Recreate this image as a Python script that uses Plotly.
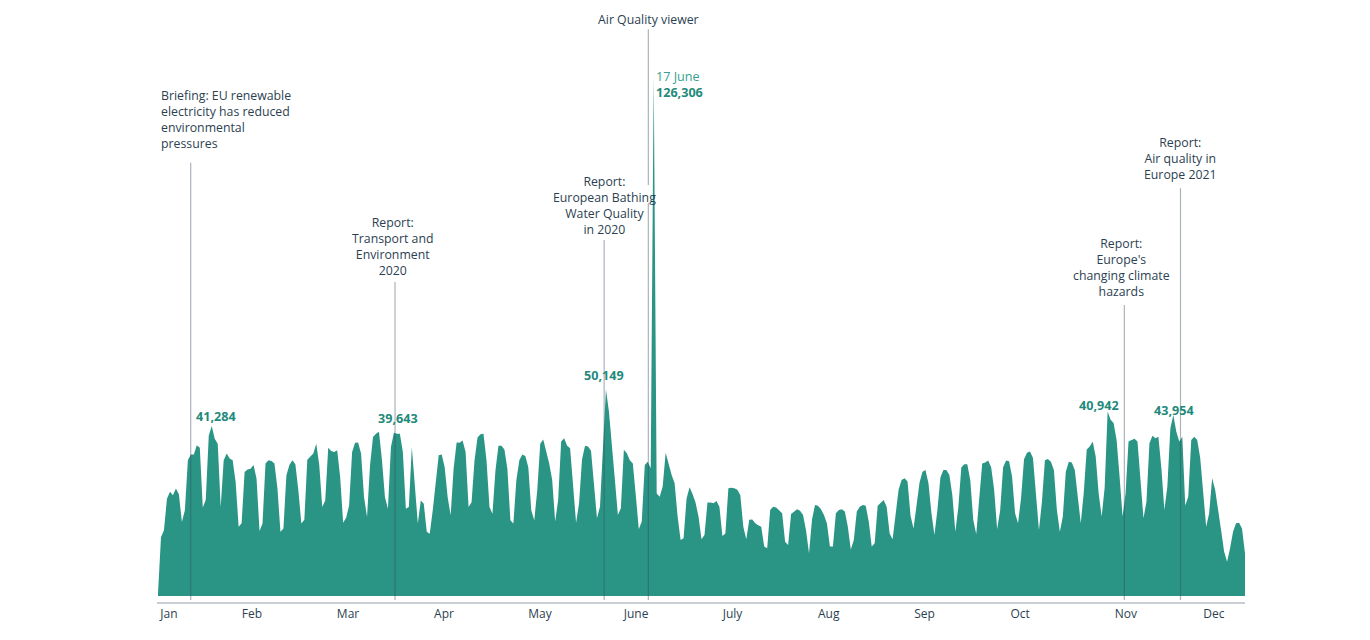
import pandas as pd
import plotly.graph_objects as go

# ---------------- data ----------------
start_date = "2021-01-01"

# daily page views (one value per day, 365 days)
views = [
    500, 14300, 16000, 23600, 25300, 24500, 26100,
    24700, 18000, 20800, 33000, 34400, 34400, 36600,
    36000, 21500, 23400, 39000, 41284, 38200, 37000,
    21600, 33000, 34600, 33400, 33000, 27700, 16800,
    17700, 30100, 30700, 30900, 31800, 28500, 15800,
    17600, 32200, 33000, 32800, 32200, 26100, 15600,
    16400, 29300, 31800, 33000, 32000, 25700, 17600,
    18500, 33100, 33800, 34600, 37000, 31800, 21600,
    23200, 36000, 35200, 35000, 35400, 28900, 17800,
    19000, 22000, 35000, 37200, 37300, 34600, 24000,
    19200, 31700, 38600, 39400, 39900, 33000, 24000,
    21200, 36200, 39643, 39400, 39400, 35000, 21200,
    21600, 36200, 27300, 17600, 23200, 22400, 15600,
    15100, 20800, 28400, 34200, 34400, 31300, 24000,
    19600, 31000, 37300, 37200, 37800, 35000, 21600,
    22800, 33000, 38500, 39300, 39400, 33000, 21600,
    20000, 30500, 36500, 36500, 35600, 30900, 18400,
    17600, 28100, 33000, 34400, 34000, 31300, 20800,
    18400, 25700, 37000, 38000, 35100, 32200, 28200,
    18100, 23300, 37500, 38300, 36500, 35900, 25800,
    17800, 22500, 33200, 36500, 36300, 35300, 27800,
    18900, 21700, 35900, 50149, 44800, 37100, 28200,
    19700, 21300, 35500, 34700, 33000, 32200, 24500,
    16200, 18100, 31800, 32600, 31000, 126306, 24900,
    24100, 26600, 34800, 31800, 29400, 27400, 19300,
    13600, 14000, 23700, 26400, 24800, 22700, 19300,
    13800, 14800, 22700, 22700, 22500, 23100, 21700,
    14600, 15200, 26200, 26300, 26200, 25800, 24500,
    16800, 13800, 18500, 18600, 17700, 17200, 16800,
    12000, 11600, 20900, 21700, 21500, 20900, 20100,
    13200, 12400, 19900, 20400, 21100, 20700, 19700,
    16000, 10400, 18500, 22100, 21900, 21100, 19700,
    17700, 12000, 12000, 20100, 20900, 21100, 20500,
    16800, 11300, 13600, 20500, 21700, 22100, 21900,
    18100, 12000, 12800, 21900, 22700, 23300, 21700,
    15200, 13800, 19300, 25800, 28200, 28600, 27800,
    19500, 16400, 22000, 27500, 30200, 30600, 27400,
    20100, 14800, 20900, 28800, 30600, 30600, 29400,
    24500, 15600, 21500, 31200, 32000, 32000, 28200,
    18500, 15000, 23300, 32200, 32400, 32900, 31300,
    25800, 16200, 20700, 31300, 32900, 32700, 29000,
    20100, 17700, 23700, 33200, 34800, 35100, 33500,
    24900, 16000, 22900, 33000, 33300, 32600, 30600,
    20900, 15600, 19300, 30200, 32600, 32400, 30600,
    24100, 17700, 25000, 35600, 36300, 37500, 33900,
    24900, 19300, 26300, 44800, 42800, 42000, 37900,
    29000, 19300, 24900, 37500, 37900, 38200, 37500,
    28200, 18900, 22900, 37100, 38900, 38300, 38700,
    31000, 20900, 26600, 40700, 43954, 39900, 37500,
    38700, 22000, 24100, 37900, 38700, 37900, 33500,
    25800, 16800, 20100, 28600, 25800, 21300, 16000,
    10800, 8300, 11600, 15600, 17700, 17800, 16400,
    10300,
]

month_labels = ["Jan", "Feb", "Mar", "Apr", "May", "June",
                "July", "Aug", "Sep", "Oct", "Nov", "Dec"]
month_label_day = [3.68, 31.48, 63.63, 95.78, 127.93, 160.08,
                   192.4, 224.6, 256.7, 288.7, 324.1, 353.6]

event_texts = [
    "Briefing: EU renewable<br>electricity has reduced<br>environmental<br>pressures",
    "Report:<br>Transport and<br>Environment<br>2020",
    "Report:<br>European Bathing<br>Water Quality<br>in 2020",
    "Air Quality viewer",
    "Report:<br>Europe's<br>changing climate<br>hazards",
    "Report:<br>Air quality in<br>Europe 2021",
]
event_day = [10.95, 79.37, 149.4, 164.2, 323.6, 342.4]

peak_labels = ["41,284", "39,643", "50,149", "126,306", "40,942", "43,954"]
peak_label_day = [19.42, 80.27, 149.4, 167.4, 315.1, 340.2]
spike_date_label = "17 June"

# ---------------- styling / layout ----------------
W, H = 1370, 640
M_L, M_R, M_T, M_B = 157, 125, 0, 38
PLOT_BOTTOM = H - M_B          # pixel row of the x axis line
PLOT_H = H - M_T - M_B

TEAL = "#2a9585"
TEAL_TXT = "#1f8a7b"
TEXT = "#2c3f52"
FONT = "Open Sans"
FS = 12.3

base = pd.Timestamp(start_date)
dates = pd.date_range(start_date, periods=len(views), freq="D")


def day_to_date(d):
    return (base + pd.to_timedelta(d, unit="D")).strftime("%Y-%m-%d %H:%M:%S")


def py(y_pixel):
    """pixel row -> paper y"""
    return (PLOT_BOTTOM - y_pixel) / PLOT_H


fig = go.Figure()
fig.add_trace(go.Scatter(
    x=dates, y=views, mode="lines", fill="tozeroy",
    line=dict(width=0, color=TEAL), fillcolor=TEAL,
    hoverinfo="skip", showlegend=False,
))

# event lines (top pixel, bottom pixel) - Air Quality viewer line is interrupted by the text
event_line_segments = [
    [(162.7, 600)],
    [(282, 600)],
    [(240, 600)],
    [(29.3, 185), (203, 600)],
    [(305, 600)],
    [(188.3, 600)],
]
shapes = []
for d, segs in zip(event_day, event_line_segments):
    for top, bot in segs:
        shapes.append(dict(
            type="line", xref="x", yref="paper",
            x0=day_to_date(d), x1=day_to_date(d),
            y0=py(bot), y1=py(top),
            line=dict(color="rgba(55,72,90,0.42)", width=1.2),
            layer="above",
        ))

# event text placement: (xanchor, xshift px, block center-y pixel, align)
event_text_place = [
    ("left", -31, 119.7, "left"),
    ("center", -2.3, 246.5, "center"),
    ("center", 0, 205.3, "center"),
    ("center", 0, 19.3, "center"),
    ("center", -2.6, 267.5, "center"),
    ("center", 0.3, 158.0, "center"),
]
annotations = []
for txt, d, (xa, xs, yc, al) in zip(event_texts, event_day, event_text_place):
    annotations.append(dict(
        x=day_to_date(d), xref="x", y=py(yc), yref="paper",
        text=txt, showarrow=False, xanchor=xa, yanchor="middle",
        xshift=xs, align=al, borderpad=0,
        font=dict(family=FONT, size=FS, color=TEXT),
    ))

# peak value labels: (xanchor, xshift, center-y pixel)
peak_place = [
    ("center", 0, 416.8),
    ("center", 0, 418.3),
    ("center", 0, 375.5),
    ("left", -2.5, 92.3),
    ("center", 0, 405.0),
    ("center", 0, 410.0),
]
for txt, d, (xa, xs, yc) in zip(peak_labels, peak_label_day, peak_place):
    annotations.append(dict(
        x=day_to_date(d), xref="x", y=py(yc), yref="paper",
        text="<b>%s</b>" % txt, showarrow=False, xanchor=xa, yanchor="middle",
        xshift=xs, borderpad=0,
        font=dict(family=FONT, size=12.6, color=TEAL_TXT),
    ))
annotations.append(dict(
    x=day_to_date(peak_label_day[3]), xref="x", y=py(76.7), yref="paper",
    text=spike_date_label, showarrow=False, xanchor="left", yanchor="middle",
    xshift=-2.5, borderpad=0,
    font=dict(family=FONT, size=12.6, color="#36a090"),
))

y_lo = -6.0 / 0.004117
y_hi = (PLOT_BOTTOM - 6.0 - M_T) / 0.004117

fig.update_layout(
    width=W, height=H, autosize=False,
    margin=dict(l=M_L, r=M_R, t=M_T, b=M_B, pad=0),
    paper_bgcolor="white", plot_bgcolor="white",
    showlegend=False,
    font=dict(family=FONT, color=TEXT),
    xaxis=dict(
        type="date",
        range=[day_to_date(-0.335), day_to_date(364.0)],
        tickvals=[day_to_date(d) for d in month_label_day],
        ticktext=month_labels,
        showgrid=False, zeroline=False,
        showline=True, linecolor="#c8ced4", linewidth=1.5,
        ticks="", tickfont=dict(family=FONT, size=12, color=TEXT),
        fixedrange=True,
    ),
    yaxis=dict(
        range=[y_lo, y_hi],
        showgrid=False, zeroline=False, showline=False,
        showticklabels=False, ticks="", fixedrange=True,
    ),
    shapes=shapes,
    annotations=annotations,
)

fig.write_html(
    "out.html",
    config={"displayModeBar": False},
    post_script="document.body.style.margin='0';document.body.style.overflow='hidden';",
)
